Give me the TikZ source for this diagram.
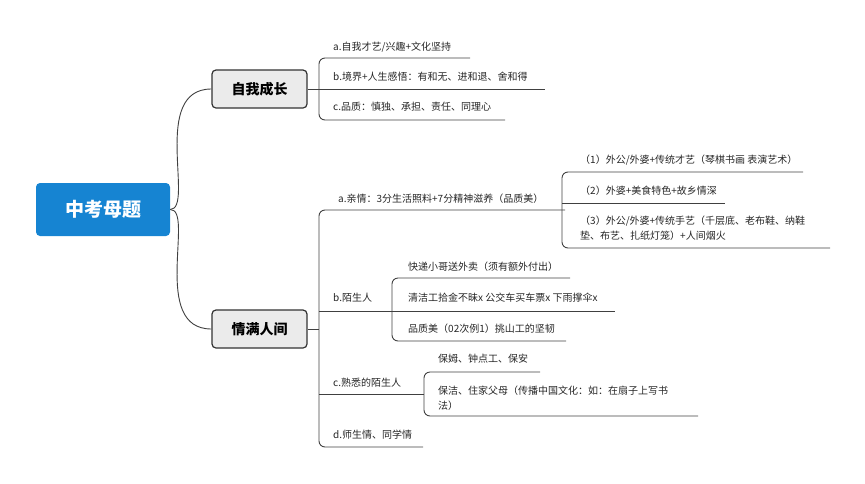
\documentclass[tikz,border=0pt]{standalone}
\usepackage{fontspec}
\setmainfont{Noto Sans CJK SC}
\definecolor{rootblue}{RGB}{22,132,210}
\begin{document}
\begin{tikzpicture}[x=1pt,y=-1pt,
  ln/.style={draw=black!75,line width=0.9pt,rounded corners=6pt},
  t/.style={anchor=west,inner sep=0pt,font=\fontsize{10}{15}\selectfont,text=black!85},
  sub/.style={draw=black!80,line width=1.2pt,fill=black!8,rounded corners=4pt,minimum width=95pt,minimum height=38pt,font=\fontsize{14}{16}\selectfont\bfseries},
  root/.style={fill=rootblue,rounded corners=4pt,minimum width=134pt,minimum height=53pt,text=white,font=\fontsize{19}{22}\selectfont\bfseries}]
\useasboundingbox (0,0) rectangle (865,483);
\node[root] (r) at (103,209.5) {中考母题};
\node[sub] (s1) at (259.5,89) {自我成长};
\node[sub] (s2) at (259.5,329) {情满人间};
\draw[ln] (r.east) .. controls (195,209) and (150,89) .. (s1.west);
\draw[ln] (r.east) .. controls (195,209) and (150,329) .. (s2.west);
% branch 1
\draw[ln] (470,58) -- (319,58) -- (319,120) -- (505,120);
\draw[ln] (s1.east) -- (545,89);
\node[t] (a1) at (333,47) {a.自我才艺/兴趣+文化坚持};
\node[t] (b1) at (333,77) {b.境界+人生感悟：有和无、进和退、舍和得};
\node[t] (c1) at (333,107) {c.品质：慎独、承担、责任、同理心};
% branch 2
\draw[ln] (565,210) -- (319,210) -- (319,447) -- (423,447);
\draw[ln] (s2.east) -- (319,329);
\draw[ln] (319,311) -- (392,311);
\draw[ln] (319,394) -- (424,394);
\node[t] (a2) at (338,199) {a.亲情：3分生活照料+7分精神滋养（品质美）};
\node[t] (b2) at (333,298) {b.陌生人};
\node[t] (c2) at (333,383) {c.熟悉的陌生人};
\node[t] (d2) at (333,435) {d.师生情、同学情};
% a children
\draw[ln] (803,172) -- (562,172) -- (562,248) -- (830,248);
\draw[ln] (562,203) -- (725,203);
\node[t] (a21) at (580,160) {（1）外公/外婆+传统才艺（琴棋书画 表演艺术）};
\node[t] (a22) at (580,191) {（2）外婆+美食特色+故乡情深};
\node[t,align=left,anchor=north west] (a23) at (580,216) {（3）外公/外婆+传统手艺（千层底、老布鞋、纳鞋\\垫、布艺、扎纸灯笼）+人间烟火};
% b children
\draw[ln] (570,278) -- (392,278) -- (392,341) -- (566,341);
\draw[ln] (392,311) -- (615,311);
\node[t] (b21) at (408,267) {快递小哥送外卖（须有额外付出）};
\node[t] (b22) at (408,298) {清洁工拾金不昧x 公交车买车票x 下雨撑伞x};
\node[t] (b23) at (408,329) {品质美（02次例1）挑山工的坚韧};
% c children
\draw[ln] (540,372) -- (424,372) -- (424,416) -- (698,416);
\node[t] (c21) at (438,359) {保姆、钟点工、保安};
\node[t,align=left,anchor=north west] (c22) at (438,386) {保洁、住家父母（传播中国文化：如：在扇子上写书\\法）};
\end{tikzpicture}
\end{document}
